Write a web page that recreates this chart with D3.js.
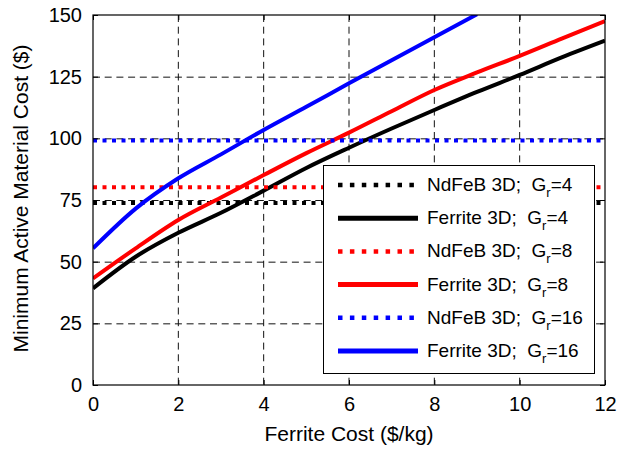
<!DOCTYPE html>
<html>
<head>
<meta charset="utf-8">
<script src="https://cdn.jsdelivr.net/npm/d3@7"></script>
<style>
  html, body { margin: 0; padding: 0; background: #fff; }
  svg { display: block; font-family: "Liberation Sans", Arial, sans-serif; }
</style>
</head>
<body>
<svg id="chart" width="631" height="449"></svg>
<script>
// ---- data ----
const ferriteCost = [0, 1, 2, 3, 4, 5, 6, 7, 8, 9, 10, 11, 12];
const ferrite3D_Gr4  = [39.2, 52.0, 61.7, 69.8, 78.8, 88.0, 96.2, 104.0, 111.5, 118.8, 125.7, 132.9, 139.6];
const ferrite3D_Gr8  = [43.2, 55.4, 66.9, 76.0, 85.1, 94.0, 102.3, 111.0, 119.6, 126.7, 133.4, 140.5, 147.5];
const ferrite3D_Gr16 = [55.4, 71.5, 83.8, 93.5, 103.4, 112.8, 122.3, 131.7, 141.0, 150.3];
const ndfeb3D = { gr4: 73.8, gr8: 80.2, gr16: 99.1 };
const xTicks = [0, 2, 4, 6, 8, 10, 12];
const yTicks = [0, 25, 50, 75, 100, 125, 150];
const legendLabels = [
  ["NdFeB 3D;  G", "r", "=4"],
  ["Ferrite 3D;  G", "r", "=4"],
  ["NdFeB 3D;  G", "r", "=8"],
  ["Ferrite 3D;  G", "r", "=8"],
  ["NdFeB 3D;  G", "r", "=16"],
  ["Ferrite 3D;  G", "r", "=16"]
];

// ---- layout ----
const L = 93, R = 605, T = 15, B = 385;
const svg = d3.select("#chart");
const x = d3.scaleLinear().domain([0, 12]).range([L, R]);
const y = d3.scaleLinear().domain([0, 150]).range([B, T]);

svg.append("defs").append("clipPath").attr("id", "plotclip")
  .append("rect").attr("x", L).attr("y", T).attr("width", R - L).attr("height", B - T);

// grid
const grid = svg.append("g");
grid.selectAll("line.vx").data(xTicks.slice(1, -1)).enter().append("line")
  .attr("x1", d => x(d)).attr("x2", d => x(d)).attr("y1", T).attr("y2", B)
  .attr("stroke", "#111").attr("stroke-width", 1).attr("stroke-dasharray", "7,4.7");
grid.selectAll("line.hy").data(yTicks.slice(1, -1)).enter().append("line")
  .attr("y1", d => y(d) + 0.5).attr("y2", d => y(d) + 0.5).attr("x1", L).attr("x2", R)
  .attr("stroke", "#111").attr("stroke-width", 1).attr("stroke-dasharray", "7,4.7");

// series
const plot = svg.append("g").attr("clip-path", "url(#plotclip)");
const line = d3.line().x(d => x(d[0])).y(d => y(d[1])).curve(d3.curveMonotoneX);
const series = [
  { type: "h", v: ndfeb3D.gr4, c: "#000" },
  { type: "c", v: ferrite3D_Gr4, c: "#000" },
  { type: "h", v: ndfeb3D.gr8, c: "#ff0000" },
  { type: "c", v: ferrite3D_Gr8, c: "#ff0000" },
  { type: "h", v: ndfeb3D.gr16, c: "#0000ff" },
  { type: "c", v: ferrite3D_Gr16, c: "#0000ff" }
];
series.forEach(s => {
  if (s.type === "h") {
    plot.append("line").attr("x1", x(0)).attr("x2", x(12))
      .attr("y1", y(s.v)).attr("y2", y(s.v))
      .attr("stroke", s.c).attr("stroke-width", 4).attr("stroke-dasharray", "4,5.5");
  } else {
    plot.append("path").datum(s.v.map((v, i) => [ferriteCost[i], v]))
      .attr("d", line).attr("fill", "none").attr("stroke", s.c)
      .attr("stroke-width", 4).attr("stroke-linejoin", "round");
  }
});

// axes (ticks inward, on all four sides)
const fs = 20;
const xAxisB = d3.axisBottom(x).tickValues(xTicks).tickSize(-5).tickPadding(12).tickFormat(d3.format("d"));
const xAxisT = d3.axisTop(x).tickValues(xTicks).tickSize(-5).tickFormat("");
const yAxisL = d3.axisLeft(y).tickValues(yTicks).tickSize(-5).tickPadding(11).tickFormat(d3.format("d"));
const yAxisR = d3.axisRight(y).tickValues(yTicks).tickSize(-5).tickFormat("");
function style(g) {
  g.select(".domain").remove();
  g.selectAll(".tick line").attr("stroke", "#000");
  g.selectAll(".tick text").attr("fill", "#000").style("font-size", fs + "px");
}
svg.append("g").attr("transform", `translate(0,${B})`).call(xAxisB).call(style);
svg.append("g").attr("transform", `translate(0,${T})`).call(xAxisT).call(style);
svg.append("g").attr("transform", `translate(${L},0)`).call(yAxisL).call(style);
svg.append("g").attr("transform", `translate(${R},0)`).call(yAxisR).call(style);

// frame
svg.append("rect").attr("x", L).attr("y", T).attr("width", R - L).attr("height", B - T)
  .attr("fill", "none").attr("stroke", "#000").attr("stroke-width", 1.2);

// legend
const lg = svg.append("g");
lg.append("rect").attr("x", 323.5).attr("y", 165.5).attr("width", 271).attr("height", 208)
  .attr("fill", "#fff").attr("stroke", "#000").attr("stroke-width", 1);
series.forEach((s, i) => {
  const cy = 185 + i * 33.2;
  lg.append("line").attr("x1", 338).attr("x2", 418).attr("y1", cy).attr("y2", cy)
    .attr("stroke", s.c).attr("stroke-width", s.type === "h" ? 4.5 : 5)
    .attr("stroke-dasharray", s.type === "h" ? "4.5,7.4" : null);
  const t = lg.append("text").attr("x", 427).attr("y", cy + 6).style("font-size", "19px")
    .attr("fill", "#000").attr("xml:space", "preserve").style("white-space", "pre");
  t.append("tspan").text(legendLabels[i][0]);
  t.append("tspan").attr("dy", 6).style("font-size", "13px").text(legendLabels[i][1]);
  t.append("tspan").attr("dy", -6).text(legendLabels[i][2]);
});

// axis titles
svg.append("text").attr("x", (L + R) / 2).attr("y", 441).attr("text-anchor", "middle")
  .style("font-size", "21px").attr("fill", "#000").text("Ferrite Cost ($/kg)");
svg.append("text").attr("transform", "translate(28,198.5) rotate(-90)").attr("text-anchor", "middle")
  .style("font-size", "21px").attr("fill", "#000").text("Minimum Active Material Cost ($)");
</script>
</body>
</html>
